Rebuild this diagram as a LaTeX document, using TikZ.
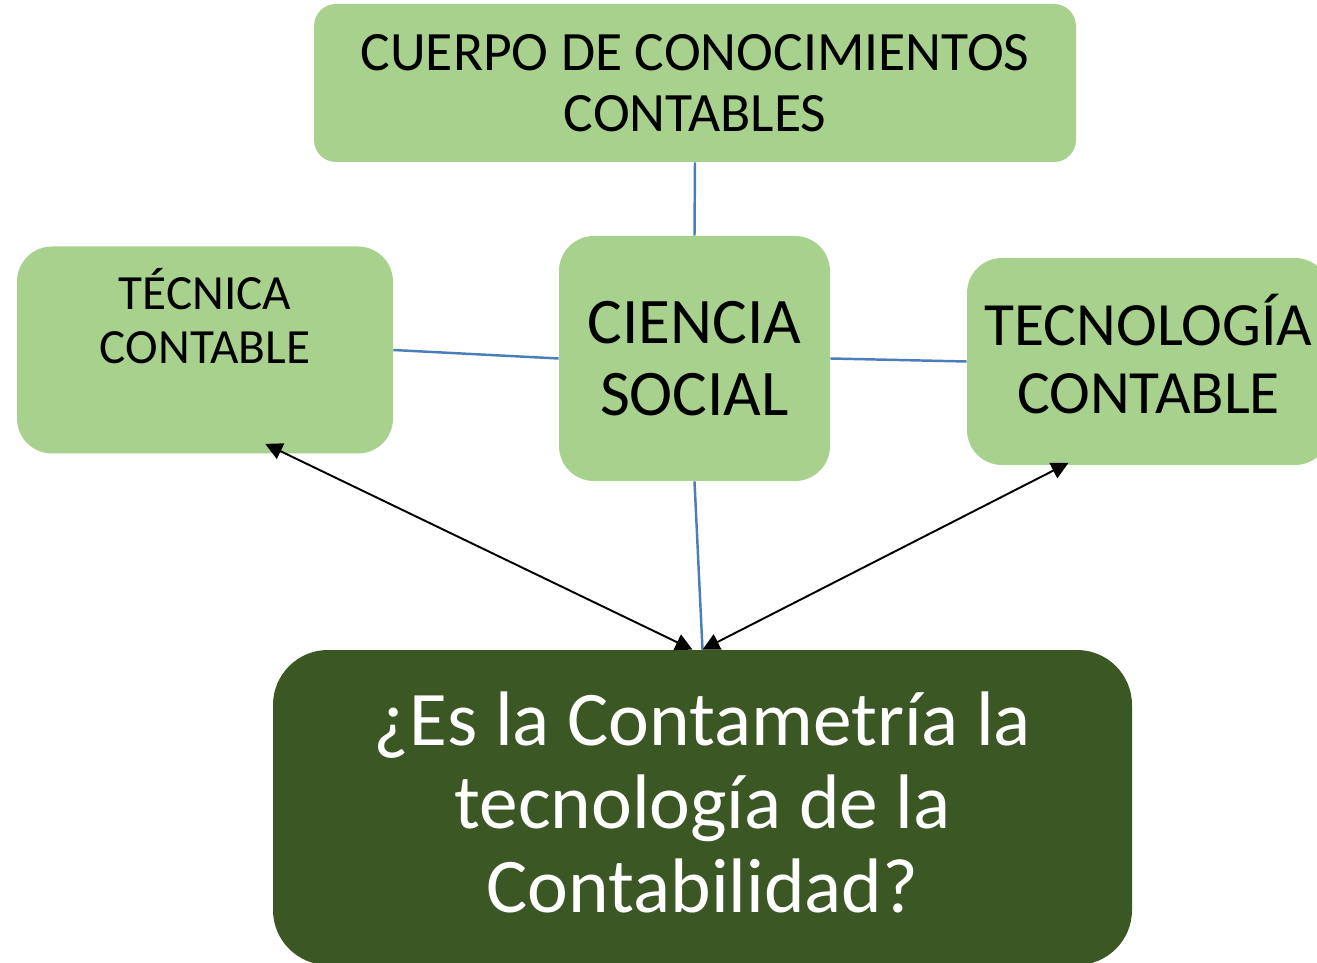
\documentclass[tikz,border=0pt]{standalone}
\usepackage{fontspec}
\setmainfont{Carlito}
\usepackage{xcolor}
\usetikzlibrary{calc,arrows.meta}

\definecolor{verdeclaro}{HTML}{A9D18E}
\definecolor{verdeoscuro}{HTML}{3A5724}
\definecolor{azullinea}{HTML}{4A7EBB}

\begin{document}
\begin{tikzpicture}[
    caja/.style={rectangle, rounded corners=0.7cm, fill=verdeclaro, align=center, inner sep=0pt},
    enlace/.style={draw=azullinea, line width=1.4pt},
    flecha/.style={draw=black, line width=1.1pt, {Triangle[length=0.34cm,width=0.34cm]}-{Triangle[length=0.34cm,width=0.34cm]}}
  ]
    \useasboundingbox (0,0) rectangle (26.34,-19.26);
    \clip (0,0) rectangle (26.34,-19.26);

    % cajas
    \node (cuerpo) [caja, rounded corners=0.44cm, minimum width=15.24cm, minimum height=3.16cm,
      font=\fontsize{31.6}{34.6}\selectfont] at (13.9,-1.66) {CUERPO DE CONOCIMIENTOS\\CONTABLES};
    \node (tecnica) [caja, minimum width=7.52cm, minimum height=4.14cm,
      font=\fontsize{28}{30.6}\selectfont] at (4.1,-7.0) {TÉCNICA\\CONTABLE\\\rule[-0.28cm]{0pt}{0pt}};
    \node (ciencia) [caja, minimum width=5.42cm, minimum height=4.9cm,
      font=\fontsize{37}{40.8}\selectfont] at (13.89,-7.17) {CIENCIA\\SOCIAL};
    \node (tecnologia) [caja, minimum width=7.26cm, minimum height=4.14cm,
      font=\fontsize{35}{38.5}\selectfont] at (22.97,-7.23) {TECNOLOGÍA\\CONTABLE\rule[-0.3cm]{0pt}{0pt}};
    \node (pregunta) [caja, rounded corners=1.1cm, fill=verdeoscuro, text=white, minimum width=17.18cm, minimum height=6.3cm,
      font=\fontsize{44}{47.6}\selectfont] at (14.05,-16.15) {¿Es la Contametría la\\tecnología de la\\Contabilidad?\rule[-0.22cm]{0pt}{0pt}};

    % lineas
    \draw [enlace] (cuerpo.south) -- (ciencia.north);
    \draw [enlace] (tecnica.east) -- (ciencia.west);
    \draw [enlace] (ciencia.east) -- (tecnologia.west);
    \draw [enlace] (ciencia.south) -- (pregunta.north);

    % flechas
    \draw [flecha] ($(tecnica.south west)!0.66!(tecnica.south east)+(0,0.2)$) -- ($(pregunta.north)+(-0.2,0)$);
    \draw [flecha] ($(tecnologia.south west)!0.28!(tecnologia.south east)+(0,0.05)$) -- ($(pregunta.north)+(0,0)$);
  \end{tikzpicture}
\end{document}
